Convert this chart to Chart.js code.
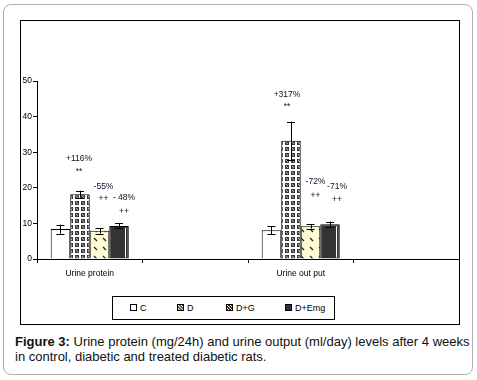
<!DOCTYPE html>
<html>
<head>
<meta charset="utf-8">
<script src="https://cdn.jsdelivr.net/npm/chart.js@4/dist/chart.umd.min.js"></script>
<style>
  html, body { margin: 0; padding: 0; background: #fff; }
  body { width: 477px; height: 380px; position: relative; overflow: hidden;
    font-family: "Liberation Sans", Arial, sans-serif; }
  #card { position: absolute; left: 3px; top: 4px; width: 468px; height: 369px;
    border: 1.5px solid #b0b0b0; border-radius: 8px; }
  #frame { position: absolute; left: 20px; top: 20px; width: 438px; height: 303px;
    border: 1px solid #000; }
  #chart { position: absolute; left: 20px; top: 20px; }
  #legend { position: absolute; left: 112px; top: 296px; width: 223px; height: 24px;
    border: 1px solid #000; box-sizing: border-box; font-size: 9px; color: #000; }
  #legend div { position: absolute; top: 6px; white-space: nowrap; }
  #legend div:nth-child(1) { left: 17px; }
  #legend div:nth-child(2) { left: 64px; }
  #legend div:nth-child(3) { left: 113px; }
  #legend div:nth-child(4) { left: 172px; }
  #legend span.sw { display: inline-block; width: 5px; height: 5px; border: 1px solid #000;
    margin-right: 3px; vertical-align: 0px; }
  #caption { position: absolute; left: 15px; top: 335px; width: 455px; font-size: 13px;
    line-height: 14.5px; color: #111; }
</style>
</head>
<body>
<div id="card"></div>
<div id="frame"></div>
<canvas id="chart" width="440" height="260"></canvas>
<div id="legend"></div>
<div id="caption"><b>Figure 3:</b> Urine protein (mg/24h) and urine output (ml/day) levels after 4 weeks in control, diabetic and treated diabetic rats.</div>
<script>
const categories = ["Urine protein", "", "Urine out put", ""];
const seriesNames = ["C", "D", "D+G", "D+Emg"];
const cValues = [8.4, null, 8.05, null];
const dValues = [18.2, null, 33.2, null];
const dgValues = [7.95, null, 9.2, null];
const deValues = [9.3, null, 9.75, null];
const cErr = [1.25, null, 1.1, null];
const dErr = [1.0, null, 5.4, null];
const dgErr = [0.8, null, 0.65, null];
const deErr = [0.7, null, 0.75, null];
const pctText = [
  [null, null, null, null],
  ["+116%", null, "+317%", null],
  ["-55%", null, "-72%", null],
  ["- 48%", null, "-71%", null]
];
const sigText = [
  [null, null, null, null],
  ["**", null, "**", null],
  ["++", null, "++", null],
  ["++", null, "++", null]
];
const yTicks = [0, 10, 20, 30, 40, 50];

const FONT = "'Liberation Sans', Arial, sans-serif";

function makePattern(kind) {
  const c = document.createElement("canvas");
  const g = c.getContext("2d");
  if (kind === "check") {
    c.width = 6; c.height = 6;
    g.fillStyle = "#fff"; g.fillRect(0, 0, 6, 6);
    g.fillStyle = "#3a3a3a"; g.fillRect(1, 1, 4, 4);
    g.fillStyle = "#bbb"; g.fillRect(2, 2, 1, 1); g.fillRect(3, 3, 1, 1);
  } else if (kind === "diag") {
    c.width = 9; c.height = 9;
    g.fillStyle = "#fffbd2"; g.fillRect(0, 0, 9, 9);
    g.strokeStyle = "#222"; g.lineWidth = 1.2;
    g.beginPath(); g.moveTo(2, 2); g.lineTo(5, 5); g.stroke();
  }
  return g.createPattern(c, "repeat");
}

const fills = ["#ffffff", makePattern("check"), makePattern("diag"), "#333333"];
const valueSets = [cValues, dValues, dgValues, deValues];
const errSets = [cErr, dErr, dgErr, deErr];

// legend (html)
const legendEl = document.getElementById("legend");
const swatchCss = ["#fff", "repeating-linear-gradient(45deg,#555 0 1px,#fff 1px 2px)",
  "repeating-linear-gradient(45deg,#333 0 1px,#fffbd2 1px 2px)", "#333"];
seriesNames.forEach((n, i) => {
  const item = document.createElement("div");
  item.innerHTML = '<span class="sw" style="background:' + swatchCss[i] + '"></span>' + n;
  legendEl.appendChild(item);
});

const errorBars = {
  id: "errorBars",
  afterDatasetsDraw(chart, args, opts) {
    const ctx = chart.ctx;
    const y = chart.scales.y;
    ctx.save();
    chart.data.datasets.forEach((ds, di) => {
      const meta = chart.getDatasetMeta(di);
      meta.data.forEach((bar, i) => {
        const v = ds.data[i];
        const e = errSets[di][i];
        if (v == null || e == null) return;
        // white inner stripe on the dark bars
        if (di === 3) {
          ctx.strokeStyle = "#fff";
          ctx.lineWidth = 1;
          ctx.beginPath();
          const sx = Math.round(bar.x + bar.width / 2 - 4) + 0.5;
          ctx.moveTo(sx, bar.y + 2);
          ctx.lineTo(sx, bar.base - 1);
          ctx.stroke();
        }
        const top = y.getPixelForValue(v + e);
        const bot = y.getPixelForValue(v - e);
        ctx.strokeStyle = "#000";
        ctx.lineWidth = 1;
        ctx.beginPath();
        ctx.moveTo(Math.round(bar.x) + 0.5, top);
        ctx.lineTo(Math.round(bar.x) + 0.5, bot);
        ctx.moveTo(bar.x - 4, Math.round(top) + 0.5);
        ctx.lineTo(bar.x + 4, Math.round(top) + 0.5);
        ctx.moveTo(bar.x - 4, Math.round(bot) + 0.5);
        ctx.lineTo(bar.x + 4, Math.round(bot) + 0.5);
        ctx.stroke();
        // annotations
        const off = opts.offsets[di][i] || [0, 0, 0];
        ctx.fillStyle = "#0d0d2a";
        ctx.font = "8.5px " + FONT;
        ctx.textAlign = "center";
        ctx.textBaseline = "middle";
        if (pctText[di][i]) ctx.fillText(pctText[di][i], bar.x + off[0], top - off[1]);
        if (sigText[di][i]) ctx.fillText(sigText[di][i], bar.x + off[0], top - off[2]);
      });
    });
    ctx.restore();
  }
};

new Chart(document.getElementById("chart"), {
  type: "bar",
  data: {
    labels: categories,
    datasets: seriesNames.map((n, i) => ({
      label: n,
      data: valueSets[i],
      backgroundColor: fills[i],
      borderColor: "#000",
      borderWidth: 1,
      borderSkipped: "bottom",
      barPercentage: 1.0,
      categoryPercentage: 0.74
    }))
  },
  options: {
    responsive: false,
    animation: false,
    layout: { padding: { top: 61, right: 1, left: 0, bottom: 0 } },
    plugins: {
      legend: { display: false },
      tooltip: { enabled: false },
      errorBars: {
        offsets: [
          [],
          [[-1, 32, 19], null, [-4, 27, 15], null],
          [[4, 41, 29], null, [5, 42, 28], null],
          [[5, 26, 12], null, [7, 35, 22], null]
        ]
      }
    },
    scales: {
      x: {
        afterFit(s) { s.height = 21; },
        grid: { offset: true, drawOnChartArea: false, color: "#000", tickLength: 4 },
        border: { color: "#000", width: 1 },
        ticks: { color: "#000", font: { size: 8.5, family: FONT }, padding: 6 }
      },
      y: {
        min: 0, max: 50,
        afterFit(s) { s.width = 17; },
        afterBuildTicks(s) { s.ticks = yTicks.map(v => ({ value: v })); },
        grid: { drawOnChartArea: false, color: "#000", tickLength: 4 },
        border: { color: "#000", width: 1 },
        ticks: { color: "#000", font: { size: 8.5, family: FONT }, padding: 1 }
      }
    }
  },
  plugins: [errorBars]
});
</script>
</body>
</html>
